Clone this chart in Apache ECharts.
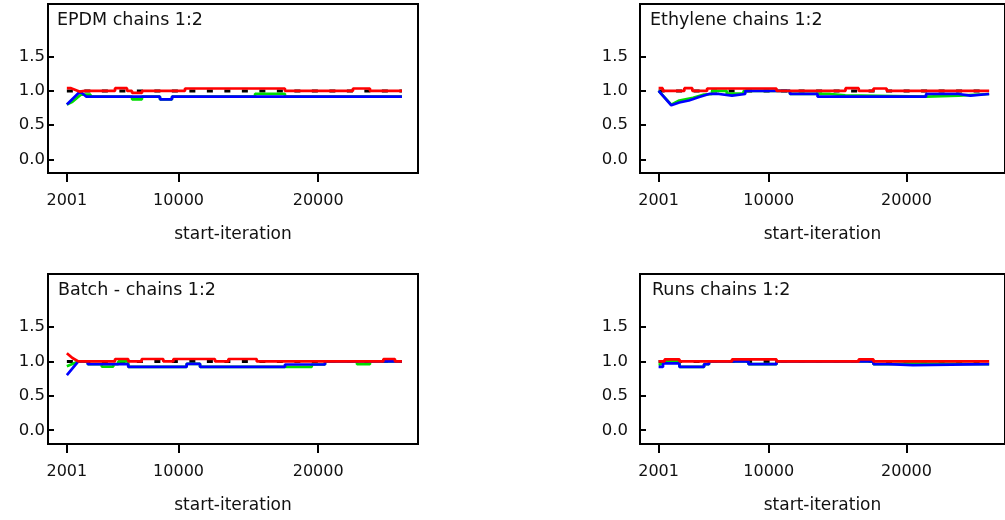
<!DOCTYPE html>
<html>
<head>
<meta charset="utf-8">
<script src="https://cdn.jsdelivr.net/npm/echarts@6/dist/echarts.min.js"></script>
<style>
html,body{margin:0;padding:0;background:#fff;}
#chart{width:1005px;height:520px;}
</style>
</head>
<body>
<div id="chart"></div>
<script>
// ---- data ----
const panelTitles = ["EPDM chains 1:2", "Ethylene chains 1:2", "Batch - chains 1:2", "Runs chains 1:2"];
const xTicks = [2001, 10000, 20000];
const yTicks = [0, 0.5, 1.0, 1.5];
const yTickLabels = ["0.0", "0.5", "1.0", "1.5"];
const xName = "start-iteration";
const refLevel = 1.0;
const iterRange = [2001, 26000];

const epdmRed = [[2001,1.04],[2300,1.04],[2900,0.99],[3300,1.0],[5450,1.0],[5450,1.04],[6310,1.04],[6310,1.0],[6670,1.0],[6670,0.97],[7380,0.97],[7380,1.0],[10460,1.0],[10460,1.035],[17620,1.035],[17620,1.0],[22490,1.0],[22490,1.035],[23710,1.035],[23710,1.0],[26000,1.0]];
const epdmGreen = [[2001,0.80],[2400,0.84],[3000,0.945],[3700,0.945],[3700,0.915],[6670,0.915],[6670,0.877],[7380,0.877],[7380,0.915],[8670,0.915],[8670,0.877],[9530,0.877],[9530,0.915],[15480,0.915],[15480,0.957],[17620,0.957],[17620,0.915],[26000,0.915]];
const epdmBlue = [[2001,0.80],[2950,0.99],[3400,0.915],[8670,0.915],[8670,0.877],[9530,0.877],[9530,0.915],[26000,0.915]];

const ethRed = [[2001,1.04],[2300,1.04],[2300,1.0],[3870,1.0],[3870,1.04],[4450,1.04],[4450,1.0],[5520,1.0],[5520,1.035],[10560,1.035],[10560,1.0],[15570,1.0],[15570,1.04],[16530,1.04],[16530,1.0],[17600,1.0],[17600,1.035],[18560,1.035],[18560,1.0],[26000,1.0]];
const ethGreen = [[2001,1.0],[2920,0.80],[3500,0.86],[4500,0.90],[5300,0.945],[5880,0.955],[5880,1.0],[6950,1.0],[6950,0.96],[8170,0.96],[8170,1.0],[11540,1.0],[11540,0.955],[14470,0.955],[14470,0.935],[15550,0.935],[15550,0.915],[21420,0.915],[21420,0.93],[23780,0.93],[23780,0.955],[26000,0.955]];
const ethBlue = [[2001,1.0],[2920,0.79],[3500,0.83],[4200,0.86],[4950,0.91],[5660,0.955],[6380,0.955],[6380,0.93],[7330,0.93],[7330,0.955],[8290,0.955],[8290,1.0],[11540,1.0],[11540,0.955],[13540,0.955],[13540,0.915],[21420,0.915],[21420,0.955],[23780,0.955],[23780,0.93],[24640,0.93],[24640,0.955],[26000,0.955]];

const batRed = [[2001,1.12],[2400,1.05],[2820,1.0],[5450,1.0],[5450,1.035],[6400,1.035],[6400,1.0],[7360,1.0],[7360,1.035],[8910,1.035],[8910,1.0],[9630,1.0],[9630,1.035],[12610,1.035],[12610,1.0],[13570,1.0],[13570,1.035],[15600,1.035],[15600,1.0],[24670,1.0],[24670,1.035],[25500,1.035],[25500,1.0],[26000,1.0]];
const batGreen = [[2001,0.93],[2820,1.0],[3500,1.0],[3500,0.96],[4500,0.96],[4500,0.925],[5330,0.925],[5330,0.96],[5690,0.96],[5690,1.0],[6400,1.0],[6400,0.92],[10580,0.92],[10580,0.965],[11540,0.965],[11540,0.92],[19540,0.92],[19540,0.955],[20490,0.955],[20490,1.0],[22780,1.0],[22780,0.96],[23710,0.96],[23710,1.0],[26000,1.0]];
const batBlue = [[2001,0.80],[2820,1.0],[3500,1.0],[3500,0.96],[6400,0.96],[6400,0.92],[10580,0.92],[10580,0.965],[11540,0.965],[11540,0.92],[17620,0.92],[17620,0.955],[20490,0.955],[20490,1.0],[26000,1.0]];

const runRed = [[2001,1.0],[2440,1.0],[2440,1.03],[3515,1.03],[3515,1.0],[7330,1.0],[7330,1.03],[10560,1.03],[10560,1.0],[16530,1.0],[16530,1.03],[17600,1.03],[17600,1.0],[26000,1.0]];
const runGreen = [[2001,0.95],[2320,0.97],[2320,1.0],[3515,1.0],[3515,0.92],[5300,0.92],[5300,0.96],[5660,0.96],[5660,1.0],[8530,1.0],[8530,0.96],[10560,0.96],[10560,1.0],[17600,1.0],[17600,0.96],[18670,0.96],[18670,0.97],[20470,0.97],[20470,0.96],[26000,0.96]];
const runBlue = [[2001,0.92],[2320,0.92],[2320,0.97],[3515,0.97],[3515,0.92],[5300,0.92],[5300,0.96],[5660,0.96],[5660,1.0],[8530,1.0],[8530,0.96],[10560,0.96],[10560,1.0],[17600,1.0],[17600,0.96],[18670,0.96],[18670,0.945],[20470,0.945],[20470,0.96],[26000,0.96]];

const panelData = [
  {red: epdmRed, green: epdmGreen, blue: epdmBlue},
  {red: ethRed, green: ethGreen, blue: ethBlue},
  {red: batRed, green: batGreen, blue: batBlue},
  {red: runRed, green: runGreen, blue: runBlue}
];

// ---- layout / style ----
const FONT = "DejaVu Sans";
const grids = [
  {left: 48, top: 4, width: 370, height: 169},
  {left: 640, top: 4, width: 370, height: 169},
  {left: 48, top: 274, width: 370, height: 170},
  {left: 640, top: 274, width: 370, height: 170}
];
const yLabelMargin = [3, 12, 3, 12];
const titlePos = [{left: 57, top: 11}, {left: 650, top: 11}, {left: 58, top: 281}, {left: 652, top: 281}];

const option = {
  animation: false,
  backgroundColor: '#fff',
  title: panelTitles.map((t, i) => ({
    text: t, left: titlePos[i].left, top: titlePos[i].top, padding: 0,
    textStyle: {fontFamily: FONT, fontSize: 17.5, fontWeight: 'normal', color: '#111'}
  })),
  grid: grids.map(g => Object.assign({show: true, borderColor: '#000', borderWidth: 2, backgroundColor: 'transparent', containLabel: false}, g)),
  xAxis: grids.map((g, i) => ({
    type: 'value', gridIndex: i, min: 650, max: 27150,
    name: xName, nameLocation: 'middle', nameGap: 53,
    nameTextStyle: {fontFamily: FONT, fontSize: 17, color: '#111'},
    axisLine: {show: false, onZero: false},
    axisTick: {show: true, length: 9, inside: false, customValues: xTicks, lineStyle: {color: '#000', width: 2}},
    axisLabel: {show: true, customValues: xTicks, margin: 20, fontFamily: FONT, fontSize: 16, color: '#111', formatter: v => String(v)},
    splitLine: {show: false}
  })),
  yAxis: grids.map((g, i) => ({
    type: 'value', gridIndex: i, min: -0.2, max: 2.27,
    axisLine: {show: false, onZero: false},
    axisTick: {show: true, length: 6, inside: true, customValues: yTicks, lineStyle: {color: '#000', width: 2}},
    axisLabel: {show: true, customValues: yTicks, margin: yLabelMargin[i], fontFamily: FONT, fontSize: 16.5, color: '#111',
      formatter: v => yTickLabels[yTicks.findIndex(t => Math.abs(t - v) < 1e-9)] ?? v.toFixed(1)},
    splitLine: {show: false}
  })),
  series: []
};

panelData.forEach((p, i) => {
  option.series.push({
    type: 'line', xAxisIndex: i, yAxisIndex: i, showSymbol: false, silent: true,
    data: [[iterRange[0], refLevel], [iterRange[1], refLevel]],
    lineStyle: {color: '#000', width: 3, type: [6, 11.5], cap: 'butt'}, z: 1
  });
  option.series.push({
    type: 'line', xAxisIndex: i, yAxisIndex: i, showSymbol: false, silent: true,
    data: p.green, lineStyle: {color: '#00dd00', width: 2.7}, z: 2
  });
  option.series.push({
    type: 'line', xAxisIndex: i, yAxisIndex: i, showSymbol: false, silent: true,
    data: p.blue, lineStyle: {color: '#0000ff', width: 2.7}, z: 3
  });
  option.series.push({
    type: 'line', xAxisIndex: i, yAxisIndex: i, showSymbol: false, silent: true,
    data: p.red, lineStyle: {color: '#ff0000', width: 2.7}, z: 4
  });
});

const chart = echarts.init(document.getElementById('chart'), null, {renderer: 'canvas'});
chart.setOption(option);
</script>
</body>
</html>
